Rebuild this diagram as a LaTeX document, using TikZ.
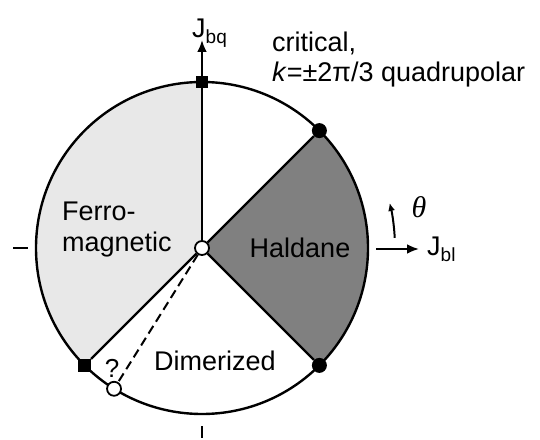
\documentclass[tikz,border=0pt]{standalone}
\usepackage{fontspec}
\setmainfont{Liberation Sans}
\newfontfamily\thetafont{Liberation Serif}
\usetikzlibrary{arrows.meta,calc}
\definecolor{ferrogrey}{HTML}{E8E8E8}
\definecolor{haldgrey}{HTML}{808080}
\begin{document}
\begin{tikzpicture}[x=1pt,y=1pt,
  bd/.style={line width=2.4pt},
  lbl/.style={font=\fontsize{27}{32}\selectfont, inner sep=0pt},
  axlbl/.style={font=\fontsize{27}{30}\selectfont, inner sep=0pt},
  sqm/.style={rectangle, fill=black, minimum size=12.5pt, inner sep=0pt},
  dotm/.style={circle, fill=black, minimum size=15pt, inner sep=0pt},
  openm/.style={circle, fill=white, draw=black, line width=1.8pt, minimum size=14pt, inner sep=0pt},
  axarrow/.style={line width=2.4pt, -{Latex[length=12pt,width=10pt]}},
  tick/.style={line width=2.6pt},
]
\useasboundingbox (0,0) rectangle (540,439);
\def\R{166}
\coordinate (C) at (202,191);
\coordinate (T) at ($(C)+(90:\R)$);
\coordinate (P45) at ($(C)+(45:\R)$);
\coordinate (M45) at ($(C)+(-45:\R)$);
\coordinate (S225) at ($(C)+(225:\R)$);
\coordinate (Q) at ($(C)+(238:\R)$);
% sectors
\fill[ferrogrey] (C) -- (T) arc[start angle=90, end angle=225, radius=\R] -- cycle;
\fill[haldgrey] (C) -- (M45) arc[start angle=-45, end angle=45, radius=\R] -- cycle;
\draw[bd] (C) circle[radius=\R];
% markers
\node[openm] (ctr) at (C) {};
\node[sqm] (sqT) at (T) {};
\node[dotm] (dotA) at (P45) {};
\node[dotm] (dotB) at (M45) {};
\node[sqm] (sqL) at (S225) {};
\node[openm] (qc) at (Q) {};
% boundaries
\draw[bd] (ctr) -- (sqT);
\draw[bd] (ctr) -- (dotA);
\draw[bd] (ctr) -- (dotB);
\draw[bd] (ctr) -- (sqL);
\draw[line width=2pt, dash pattern=on 9pt off 5pt] (ctr) -- (qc);
% axes
\coordinate (ytip) at (202,399);
\draw[axarrow] (sqT) -- (ytip);
\node[axlbl, anchor=base west] (jbq) at (192,401) {J\raisebox{-6pt}{\fontsize{19}{19}\selectfont bq}};
\coordinate (xs) at (376,190);
\coordinate (xe) at (419,190);
\draw[axarrow] (xs) -- (xe);
\node[axlbl, anchor=base west] (jbl) at (427,183) {J\raisebox{-6pt}{\fontsize{19}{19}\selectfont bl}};
\draw[line width=2pt, -{Latex[length=8pt,width=7pt]}] ($(C)+(3:193)$) arc[start angle=3, end angle=13.5, radius=193];
\node[inner sep=0pt, font=\fontsize{30}{34}\selectfont\thetafont\itshape] (th) at (419,232) {θ};
% ticks
\coordinate (la) at (13,191);
\coordinate (lb) at (28,191);
\draw[tick] (la) -- (lb);
\coordinate (ba) at (202,13);
\coordinate (bb) at (202,1);
\draw[tick] (ba) -- (bb);
% labels
\node[lbl, anchor=base west] (crit1) at (272,387) {critical,};
\node[lbl, anchor=base west] (crit2) at (272,357) {\textit{k}=±2π/3 quadrupolar};
\node[lbl, anchor=base west] (fm1) at (62,218) {Ferro-};
\node[lbl, anchor=base west] (fm2) at (62,187) {magnetic};
\node[lbl, anchor=base] (hal) at (300,181) {Haldane};
\node[lbl, anchor=base] (dim) at (215,69) {Dimerized};
\node[inner sep=0pt, font=\fontsize{26}{30}\selectfont, anchor=base] (qm) at (112,62) {?};
\end{tikzpicture}
\end{document}
